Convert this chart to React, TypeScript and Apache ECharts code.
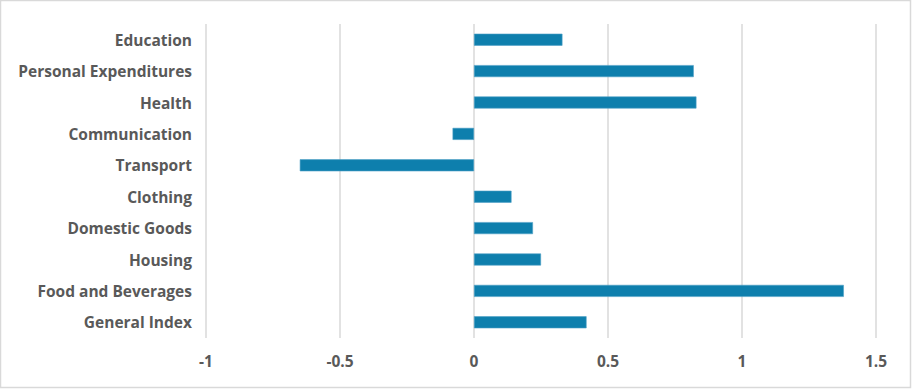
import React, { useEffect, useRef } from "react";
import * as echarts from "echarts";

const categories = [
  "General Index",
  "Food and Beverages",
  "Housing",
  "Domestic Goods",
  "Clothing",
  "Transport",
  "Communication",
  "Health",
  "Personal Expenditures",
  "Education",
];
const values = [0.42, 1.38, 0.25, 0.22, 0.14, -0.65, -0.08, 0.83, 0.82, 0.33];
const xMin = -1;
const xMax = 1.5;
const xInterval = 0.5;

export default function App() {
  const ref = useRef<HTMLDivElement>(null);
  useEffect(() => {
    if (!ref.current) return;
    const chart = echarts.init(ref.current, null, { renderer: "svg" });
    const font = "'Open Sans', sans-serif";
    chart.setOption({
      animation: false,
      backgroundColor: "#ffffff",
      grid: { left: 206, right: 36, top: 24, bottom: 51 },
      xAxis: {
        type: "value",
        min: xMin,
        max: xMax,
        interval: xInterval,
        axisLine: { show: false },
        axisTick: { show: false },
        splitLine: { show: true, lineStyle: { color: "#d9d9d9", width: 1.5 } },
        axisLabel: {
          color: "#595959",
          fontFamily: font,
          fontWeight: "bold",
          fontSize: 15.5,
          margin: 15,
        },
      },
      yAxis: {
        type: "category",
        data: categories,
        axisLine: { show: false },
        axisTick: { show: false },
        splitLine: { show: false },
        axisLabel: {
          color: "#595959",
          fontFamily: font,
          fontWeight: "bold",
          fontSize: 15.5,
          margin: 14,
        },
      },
      series: [
        {
          type: "bar",
          data: values,
          barWidth: 12,
          itemStyle: { color: "#0e7fad", borderColor: "#4d9fc6", borderWidth: 0.6 },
        },
      ],
      graphic: [
        {
          type: "rect",
          shape: { x: 0.5, y: 0.5, width: 910, height: 387 },
          style: { fill: "none", stroke: "#d9d9d9", lineWidth: 1.5 },
          silent: true,
        },
      ],
    });
    return () => chart.dispose();
  }, []);
  return (
    <div
      ref={ref}
      style={{ position: "fixed", left: 0, top: 0, width: 912, height: 389 }}
    />
  );
}
